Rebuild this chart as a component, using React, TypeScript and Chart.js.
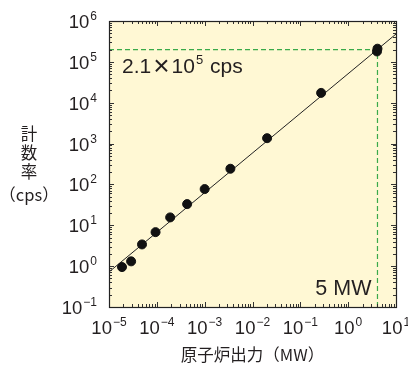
import React, { useEffect, useRef } from "react";
import { Chart, registerables } from "chart.js";

Chart.register(...registerables);

// Measured points: reactor power (MW) vs count rate (cps)
const powerMW = [1.87e-5, 2.9e-5, 4.9e-5, 9.4e-5, 1.9e-4, 4.3e-4, 1.0e-3, 3.45e-3, 2.02e-2, 0.272, 4.0, 4.1];
const countRate = [0.95, 1.31, 3.4, 6.8, 15.6, 33, 77, 242, 1355, 17400, 1.8e5, 2.1e5];

// Fitted line end points
const fitX = [1e-5, 10];
const fitY = [0.72, 4.8e5];

// Reference lines
const refPower = 4.1;
const refRate = 2.0e5;

// Axis decades
const xDecades = [-5, -4, -3, -2, -1, 0, 1];
const yDecades = [-1, 0, 1, 2, 3, 4, 5, 6];

const xTitle = "原子炉出力（MW）";
const yTitleLines = ["計", "数", "率", "（cps）"];
const rateLabel = { mant: "2.1", times: "×", base: "10", exp: "5", tail: " cps" };
const powerLabel = "5 MW";

const TEXT = "#231f20";
const GREEN = "#3aaa4a";
const BG = "#fff8d4";
const SANS = '"Liberation Sans", Arial, sans-serif';
const CJK = '"Noto Sans CJK JP", sans-serif';

function supLabel(e: number) {
  return e < 0 ? "\u2212" + Math.abs(e) : String(e);
}

const framePlugin = {
  id: "frame",
  beforeDatasetsDraw(chart: any) {
    const { ctx, chartArea: a } = chart;
    ctx.save();
    ctx.fillStyle = BG;
    ctx.fillRect(a.left, a.top, a.right - a.left, a.bottom - a.top);
    ctx.restore();
  },
  afterDraw(chart: any) {
    const { ctx, chartArea: a } = chart;
    const xs = chart.scales.x;
    const ys = chart.scales.y;
    ctx.save();
    ctx.strokeStyle = "#333";
    ctx.lineWidth = 1;
    // ticks
    ctx.beginPath();
    const major = 5;
    const minor = 3;
    for (const d of xDecades) {
      for (let m = 1; m <= 9; m++) {
        const v = m * Math.pow(10, d);
        if (d === xDecades[xDecades.length - 1] && m > 1) break;
        const px = Math.round(xs.getPixelForValue(v)) + 0.5;
        const len = m === 1 ? major : minor;
        ctx.moveTo(px, a.bottom);
        ctx.lineTo(px, a.bottom - len);
        ctx.moveTo(px, a.top);
        ctx.lineTo(px, a.top + len);
      }
    }
    for (const d of yDecades) {
      for (let m = 1; m <= 9; m++) {
        const v = m * Math.pow(10, d);
        if (d === yDecades[yDecades.length - 1] && m > 1) break;
        const py = Math.round(ys.getPixelForValue(v)) + 0.5;
        const len = m === 1 ? major : minor;
        ctx.moveTo(a.left, py);
        ctx.lineTo(a.left + len, py);
        ctx.moveTo(a.right, py);
        ctx.lineTo(a.right - len, py);
      }
    }
    ctx.stroke();
    // border
    ctx.strokeStyle = "#222";
    ctx.lineWidth = 1.2;
    ctx.strokeRect(Math.round(a.left) + 0.5, Math.round(a.top) + 0.5, Math.round(a.right - a.left), Math.round(a.bottom - a.top));

    ctx.fillStyle = TEXT;
    ctx.textBaseline = "alphabetic";
    const mainFont = "18.5px " + SANS;
    const supFont = "12px " + SANS;
    // x tick labels
    for (const d of xDecades) {
      const px = xs.getPixelForValue(Math.pow(10, d));
      ctx.font = mainFont;
      const w1 = ctx.measureText("10").width;
      ctx.font = supFont;
      const s = supLabel(d);
      const w2 = ctx.measureText(s).width;
      const start = px - (w1 + 1 + w2) / 2;
      ctx.font = mainFont;
      ctx.textAlign = "left";
      ctx.fillText("10", start, a.bottom + 27);
      ctx.font = supFont;
      ctx.fillText(s, start + w1 + 1, a.bottom + 19);
    }
    // y tick labels
    for (const d of yDecades) {
      const py = ys.getPixelForValue(Math.pow(10, d));
      ctx.font = supFont;
      const s = supLabel(d);
      const w2 = ctx.measureText(s).width;
      const right = a.left - 12;
      ctx.textAlign = "left";
      ctx.fillText(s, right - w2, py - 1);
      ctx.font = mainFont;
      ctx.textAlign = "right";
      ctx.fillText("10", right - w2 - 1, py + 7);
    }
    // axis titles
    ctx.font = "16.5px " + CJK;
    ctx.textAlign = "center";
    ctx.textBaseline = "middle";
    ctx.fillText(xTitle, (a.left + a.right) / 2, 355);
    const yPos = [134, 153, 172, 195];
    yTitleLines.forEach((t, i) => ctx.fillText(t, 29, yPos[i]));

    // annotations
    ctx.textBaseline = "alphabetic";
    ctx.textAlign = "left";
    const annoY = ys.getPixelForValue(refRate) + 23;
    let x0 = a.left + 13;
    ctx.font = "21px " + SANS;
    ctx.fillText(rateLabel.mant, x0, annoY);
    x0 += ctx.measureText(rateLabel.mant).width + 2;
    ctx.font = "28px " + SANS;
    ctx.fillText(rateLabel.times, x0, annoY + 2);
    x0 += ctx.measureText(rateLabel.times).width + 2;
    ctx.font = "21px " + SANS;
    ctx.fillText(rateLabel.base, x0, annoY);
    x0 += ctx.measureText(rateLabel.base).width + 1;
    ctx.font = "13px " + SANS;
    ctx.fillText(rateLabel.exp, x0, annoY - 9);
    x0 += ctx.measureText(rateLabel.exp).width + 1;
    ctx.font = "21px " + SANS;
    ctx.fillText(rateLabel.tail, x0, annoY);

    ctx.textAlign = "right";
    ctx.font = "21.5px " + SANS;
    ctx.fillText(powerLabel, xs.getPixelForValue(refPower) - 6, a.bottom - 12);
    ctx.restore();
  },
};

export default function App() {
  const ref = useRef<HTMLCanvasElement | null>(null);
  useEffect(() => {
    if (!ref.current) return;
    const chart = new Chart(ref.current, {
      type: "scatter",
      data: {
        datasets: [
          {
            type: "scatter",
            data: powerMW.map((x, i) => ({ x, y: countRate[i] })),
            backgroundColor: "#111",
            borderColor: "#111",
            pointRadius: 4.5,
            pointHoverRadius: 4.5,
          },
          {
            type: "line",
            data: fitX.map((x, i) => ({ x, y: fitY[i] })),
            borderColor: "#222",
            borderWidth: 1,
            pointRadius: 0,
          },
          {
            type: "line",
            data: [
              { x: 1e-5, y: refRate },
              { x: refPower, y: refRate },
            ],
            borderColor: GREEN,
            borderWidth: 1.2,
            borderDash: [5, 3],
            pointRadius: 0,
          },
          {
            type: "line",
            data: [
              { x: refPower, y: 0.1 },
              { x: refPower, y: refRate },
            ],
            borderColor: GREEN,
            borderWidth: 1.2,
            borderDash: [5, 3],
            pointRadius: 0,
          },
        ],
      },
      options: {
        animation: false,
        responsive: false,
        devicePixelRatio: 1,
        layout: { padding: { left: 109, top: 21, right: 12, bottom: 58 } },
        plugins: { legend: { display: false }, tooltip: { enabled: false } },
        events: [],
        scales: {
          x: { type: "logarithmic", min: 1e-5, max: 10, display: false },
          y: { type: "logarithmic", min: 0.1, max: 1e6, display: false },
        },
      },
      plugins: [framePlugin],
    });
    return () => chart.destroy();
  }, []);
  return (
    <div style={{ position: "fixed", left: 0, top: 0, width: 408, height: 365, background: "#fff" }}>
      <canvas ref={ref} width={408} height={365} style={{ display: "block" }} />
    </div>
  );
}
